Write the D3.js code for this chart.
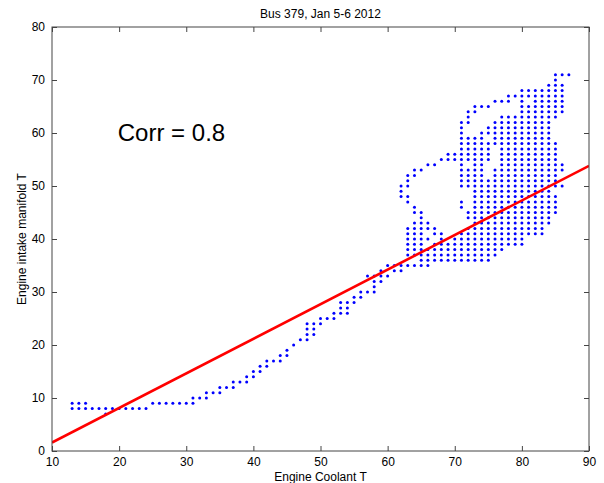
<!DOCTYPE html>
<html>
<head>
<meta charset="utf-8">
<script src="https://cdn.jsdelivr.net/npm/d3@7"></script>
<style>
  body { margin: 0; background: #fff; }
  text { font-family: Arial, "Liberation Sans", Helvetica, sans-serif; }
</style>
</head>
<body>
<svg width="604" height="483"></svg>
<script>
// intake manifold T (one value per row) and the coolant T readings on that row
var intakeRows = [71,70,69,68,67,66,65,64,63,62,61,60,59,58,57,56,55,54,53,52,51,50,49,48,47,46,45,44,43,42,41,40,39,38,37,36,35,34,33,32,31,30,29,28,27,26,25,24,23,22,21,20,19,18,17,16,15,14,13,12,11,10,9,8,7];
var coolantRows = [
  [85,86,87],
  [85],
  [84,85,86],
  [80,81,82,83,84,85,86],
  [78,79,80,81,82,83,84,85,86],
  [76,77,78,80,82,83,84,85,86],
  [73,74,75,80,81,82,83,84,85,86],
  [72,73,80,81,82,83,84,85,86],
  [72,77,78,79,80,81,82,83,84,85],
  [71,72,76,77,78,79,80,81,82,83,84],
  [71,75,76,77,78,79,80,81,82,83,84],
  [71,74,75,76,77,78,79,80,81,82,83,84],
  [71,72,73,74,76,77,78,79,80,81,82,83,84],
  [71,72,73,74,75,76,77,78,79,80,81,82,83,84,85],
  [71,72,73,74,75,77,78,79,80,81,82,83,84,85],
  [69,70,71,72,73,74,75,77,78,79,80,81,82,83,84,85],
  [68,69,70,71,72,73,74,75,77,78,79,80,81,82,83,84,85],
  [66,67,71,73,74,77,78,79,80,81,82,83,84,85,86],
  [64,65,71,72,73,74,76,77,78,79,80,81,82,83,84,85,86],
  [63,64,71,72,73,74,76,77,78,79,80,81,82,83,84,85],
  [63,71,72,73,74,75,76,77,78,79,80,81,82,83,84,85],
  [62,63,71,72,73,74,75,76,77,78,79,80,81,82,83,84,85,86],
  [62,73,74,75,76,77,78,79,80,81,82,83,84],
  [62,63,73,74,75,76,77,78,79,80,81,82,83,84,85],
  [63,71,73,74,75,76,77,78,79,80,81,82,83,84,85],
  [64,71,73,74,75,76,77,78,79,80,81,82,83,84,85],
  [64,65,72,73,74,75,76,77,78,79,80,81,82,83,84,85],
  [65,72,73,74,75,76,77,78,79,80,81,82,83,84],
  [64,65,66,73,74,75,76,77,78,79,80,81,82,83,84],
  [63,64,65,66,67,72,73,74,75,76,77,78,79,80,81,82,83],
  [63,64,65,67,68,71,72,73,74,75,76,77,78,79,80,81,82,83],
  [63,64,65,66,68,70,71,72,73,74,75,76,77,78,79,80],
  [63,64,65,67,68,69,70,71,72,73,74,75,76,77,78,79,80],
  [63,64,65,66,67,68,69,70,71,72,73,74,75,76,77],
  [63,64,65,66,67,68,69,70,71,72,73,74,75,76],
  [65,66,67,68,69,70,71,72,73,74,75],
  [60,61,62,63,64,65,66],
  [59,61,62],
  [57,58,59,60],
  [58,59],
  [58],
  [56,57,58],
  [55,56],
  [53,54,55],
  [53,54],
  [52,53,54],
  [50,51,52],
  [48,49,50],
  [48,49],
  [48,49],
  [47,48],
  [46],
  [45],
  [44,45],
  [42,43,44],
  [41,42],
  [40,41],
  [39,40],
  [37,38,39],
  [35,36,37],
  [33,34,35],
  [31,32,33],
  [13,14,15,25,26,27,28,29,30,31],
  [13,14,15,16,17,18,19,20,21,22,23,24],
  [18]
];
// least squares line end points
var fitX = [10, 90];
var fitY = [1.6, 53.8];
var xTicks = [10,20,30,40,50,60,70,80,90];
var yTicks = [0,10,20,30,40,50,60,70,80];

var points = [];
intakeRows.forEach(function(yv, i) {
  coolantRows[i].forEach(function(xv) { points.push([xv, yv]); });
});

var svg = d3.select("svg"),
    margin = {top: 27, right: 15, bottom: 32, left: 52},
    width = +svg.attr("width") - margin.left - margin.right,
    height = +svg.attr("height") - margin.top - margin.bottom,
    g = svg.append("g").attr("transform", "translate(" + margin.left + "," + margin.top + ")");

var x = d3.scaleLinear().domain([10, 90]).range([0, width]);
var y = d3.scaleLinear().domain([0, 80]).range([height, 0]);

svg.append("defs").append("clipPath").attr("id", "clip")
  .append("rect").attr("width", width).attr("height", height);

// scatter
g.append("g").selectAll("circle")
  .data(points)
  .enter().append("circle")
    .attr("cx", function(d) { return x(d[0]); })
    .attr("cy", function(d) { return y(d[1]); })
    .attr("r", 1.5)
    .attr("fill", "#0000ff");

// fit line
g.append("line")
  .attr("clip-path", "url(#clip)")
  .attr("x1", x(fitX[0])).attr("y1", y(fitY[0]))
  .attr("x2", x(fitX[1])).attr("y2", y(fitY[1]))
  .attr("stroke", "#ff0000")
  .attr("stroke-width", 2.6);

// axes, MATLAB style ticks inside on all sides
var tk = 5;
function styleAxis(sel) {
  sel.select(".domain").remove();
  sel.selectAll(".tick line").attr("stroke", "#444");
  sel.selectAll(".tick text").attr("fill", "#000").style("font-size", "12px");
}
g.append("g").attr("transform", "translate(0," + height + ")")
  .call(d3.axisBottom(x).tickValues(xTicks).tickSizeInner(-tk).tickSizeOuter(0).tickPadding(6))
  .call(styleAxis);
g.append("g")
  .call(d3.axisTop(x).tickValues(xTicks).tickSizeInner(-tk).tickSizeOuter(0).tickFormat(""))
  .call(styleAxis);
g.append("g")
  .call(d3.axisLeft(y).tickValues(yTicks).tickSizeInner(-tk).tickSizeOuter(0).tickPadding(7))
  .call(styleAxis);
g.append("g").attr("transform", "translate(" + width + ",0)")
  .call(d3.axisRight(y).tickValues(yTicks).tickSizeInner(-tk).tickSizeOuter(0).tickFormat(""))
  .call(styleAxis);

g.append("rect")
  .attr("width", width).attr("height", height)
  .attr("fill", "none").attr("stroke", "#444").attr("stroke-width", 1);

// text
svg.append("text")
  .attr("x", margin.left + width / 2).attr("y", 18)
  .attr("text-anchor", "middle").style("font-size", "12px")
  .text("Bus 379, Jan 5-6 2012");
svg.append("text")
  .attr("x", margin.left + width / 2).attr("y", 481)
  .attr("text-anchor", "middle").style("font-size", "12px")
  .text("Engine Coolant T");
svg.append("text")
  .attr("transform", "translate(26," + (margin.top + height / 2) + ") rotate(-90)")
  .attr("text-anchor", "middle").style("font-size", "12px")
  .text("Engine intake manifold T");
g.append("text")
  .attr("x", x(19.8)).attr("y", y(58.5))
  .style("font-size", "24px")
  .text("Corr = 0.8");
</script>
</body>
</html>
